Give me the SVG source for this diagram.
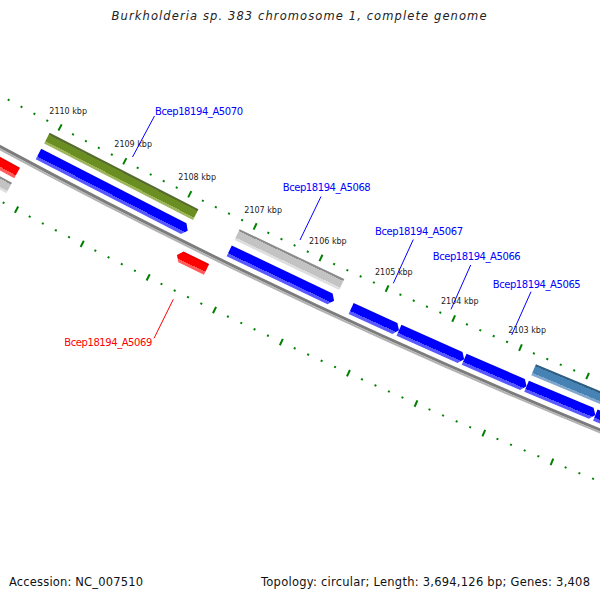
<svg xmlns="http://www.w3.org/2000/svg" xmlns:xlink="http://www.w3.org/1999/xlink" width="600" height="600" viewBox="0 0 600 600">
<style>
.title{font-family:"DejaVu Sans","Liberation Sans",sans-serif;font-style:italic;font-size:11.5px;fill:#222}
.foot{font-family:"DejaVu Sans","Liberation Sans",sans-serif;font-size:11.5px;fill:#111}
.kbp{font-family:"DejaVu Sans","Liberation Sans",sans-serif;font-size:8px;fill:#222}
.lab{font-family:"DejaVu Sans","Liberation Sans",sans-serif;font-size:10px}
.fw{fill:#ff0000}.rv{fill:#0000ff}
.lline{stroke-width:1;fill:none}
</style>
<defs>
<linearGradient id="gBlue" x1="0" y1="0" x2="1" y2="0"><stop offset="0" stop-color="#0000f0"/><stop offset=".15" stop-color="#0000f0"/><stop offset=".15" stop-color="#0000ff"/><stop offset=".72" stop-color="#0000ff"/><stop offset=".72" stop-color="#5858ff"/><stop offset="1" stop-color="#5858ff"/></linearGradient>
<linearGradient id="gOlive" x1="0" y1="0" x2="1" y2="0"><stop offset="0" stop-color="#556b2f"/><stop offset=".17" stop-color="#556b2f"/><stop offset=".17" stop-color="#6b8e23"/><stop offset=".78" stop-color="#6b8e23"/><stop offset=".78" stop-color="#9cb45a"/><stop offset="1" stop-color="#9cb45a"/></linearGradient>
<linearGradient id="gGray" x1="0" y1="0" x2="1" y2="0"><stop offset="0" stop-color="#8c8c8c"/><stop offset=".17" stop-color="#8c8c8c"/><stop offset=".17" stop-color="#c3c3c3"/><stop offset=".78" stop-color="#c3c3c3"/><stop offset=".78" stop-color="#dedede"/><stop offset="1" stop-color="#dedede"/></linearGradient>
<linearGradient id="gSteel" x1="0" y1="0" x2="1" y2="0"><stop offset="0" stop-color="#2e5d82"/><stop offset=".17" stop-color="#2e5d82"/><stop offset=".17" stop-color="#4682b4"/><stop offset=".78" stop-color="#4682b4"/><stop offset=".78" stop-color="#80a8cc"/><stop offset="1" stop-color="#80a8cc"/></linearGradient>
<linearGradient id="gRed" x1="0" y1="0" x2="1" y2="0"><stop offset="0" stop-color="#e80000"/><stop offset=".15" stop-color="#e80000"/><stop offset=".15" stop-color="#ff0000"/><stop offset=".72" stop-color="#ff0000"/><stop offset=".72" stop-color="#ff5c5c"/><stop offset="1" stop-color="#ff5c5c"/></linearGradient>
<g id="dot"><rect x="6250" y="-1" width="2" height="2"/><rect x="6343" y="-1" width="2" height="2"/></g>
<g id="tick"><rect x="6247.5" y="-1" width="7" height="2"/><rect x="6340.5" y="-1" width="7" height="2"/></g>
</defs>
<rect width="600" height="600" fill="#ffffff"/>

<g id="backbone" fill="none">
<circle cx="2985" cy="-5397" r="6296" stroke="#7c7c7c" stroke-width="3"/>
<circle cx="2985" cy="-5397" r="6298.5" stroke="#b2b2b2" stroke-width="2"/>
</g>

<g id="ruler" fill="#008000" transform="translate(2985 -5397)">
<use href="#tick" transform="rotate(112.552)"/><use href="#tick" transform="rotate(113.22)"/><use href="#tick" transform="rotate(113.888)"/><use href="#tick" transform="rotate(114.557)"/><use href="#tick" transform="rotate(115.225)"/><use href="#tick" transform="rotate(115.894)"/><use href="#tick" transform="rotate(116.562)"/><use href="#tick" transform="rotate(117.23)"/><use href="#tick" transform="rotate(117.899)"/>
<use href="#dot" transform="rotate(112.017)"/><use href="#dot" transform="rotate(112.151)"/><use href="#dot" transform="rotate(112.284)"/><use href="#dot" transform="rotate(112.418)"/>
<use href="#dot" transform="rotate(112.685)"/><use href="#dot" transform="rotate(112.819)"/><use href="#dot" transform="rotate(112.953)"/><use href="#dot" transform="rotate(113.086)"/>
<use href="#dot" transform="rotate(113.354)"/><use href="#dot" transform="rotate(113.487)"/><use href="#dot" transform="rotate(113.621)"/><use href="#dot" transform="rotate(113.755)"/>
<use href="#dot" transform="rotate(114.022)"/><use href="#dot" transform="rotate(114.156)"/><use href="#dot" transform="rotate(114.289)"/><use href="#dot" transform="rotate(114.423)"/>
<use href="#dot" transform="rotate(114.69)"/><use href="#dot" transform="rotate(114.824)"/><use href="#dot" transform="rotate(114.958)"/><use href="#dot" transform="rotate(115.092)"/>
<use href="#dot" transform="rotate(115.359)"/><use href="#dot" transform="rotate(115.493)"/><use href="#dot" transform="rotate(115.626)"/><use href="#dot" transform="rotate(115.76)"/>
<use href="#dot" transform="rotate(116.027)"/><use href="#dot" transform="rotate(116.161)"/><use href="#dot" transform="rotate(116.295)"/><use href="#dot" transform="rotate(116.428)"/>
<use href="#dot" transform="rotate(116.696)"/><use href="#dot" transform="rotate(116.829)"/><use href="#dot" transform="rotate(116.963)"/><use href="#dot" transform="rotate(117.097)"/>
<use href="#dot" transform="rotate(117.364)"/><use href="#dot" transform="rotate(117.498)"/><use href="#dot" transform="rotate(117.631)"/><use href="#dot" transform="rotate(117.765)"/>
<use href="#dot" transform="rotate(118.032)"/><use href="#dot" transform="rotate(118.166)"/><use href="#dot" transform="rotate(118.3)"/><use href="#dot" transform="rotate(118.434)"/>
<use href="#dot" transform="rotate(118.567)"/><use href="#dot" transform="rotate(118.701)"/>
</g>

<g id="ruler-labels" class="kbp">
<text x="49.3" y="114.3">2110 kbp</text>
<text x="114.3" y="147">2109 kbp</text>
<text x="178.3" y="180.3">2108 kbp</text>
<text x="244.3" y="213.3">2107 kbp</text>
<text x="309" y="244.3">2106 kbp</text>
<text x="375" y="275">2105 kbp</text>
<text x="441" y="303.7">2104 kbp</text>
<text x="508.3" y="332.7">2103 kbp</text>
</g>

<g id="gene-left-fwd" transform="translate(2985 -5397) rotate(118.625)">
<path d="M6305 -63.3 L6317 -63.3 L6317 58.8 L6311 63.3 L6305 58.8 Z" fill="url(#gRed)"/>
<rect x="6322" y="-63.5" width="12" height="127" fill="url(#gGray)"/>
</g>

<g id="gene-A5070">
<g transform="translate(2985 -5397) rotate(117.195)">
<rect x="6260" y="-83.65" width="12" height="167.3" fill="url(#gOlive)"/>
<path d="M6278 83.9 L6290 83.9 L6290 -79.4 L6284 -83.9 L6278 -79.4 Z" fill="url(#gBlue)"/>
</g>
<text class="lab rv" x="155" y="114.8" textLength="88" lengthAdjust="spacing">Bcep18194_A5070</text>
</g>

<g id="gene-A5069">
<g transform="translate(2985 -5397) rotate(116.27)">
<path d="M6305 -16.5 L6317 -16.5 L6317 12 L6311 16.5 L6305 12 Z" fill="url(#gRed)"/>
</g>
<text class="lab fw" x="64.3" y="345.8" textLength="88" lengthAdjust="spacing">Bcep18194_A5069</text>
</g>

<g id="gene-A5068">
<g transform="translate(2985 -5397) rotate(115.48)">
<rect x="6260" y="-58" width="12" height="116" fill="url(#gGray)"/>
<path d="M6278 58.1 L6290 58.1 L6290 -53.6 L6284 -58.1 L6278 -53.6 Z" fill="url(#gBlue)"/>
</g>
<text class="lab rv" x="282.7" y="190.8" textLength="88" lengthAdjust="spacing">Bcep18194_A5068</text>
</g>

<g id="gene-A5067">
<g transform="translate(2985 -5397) rotate(114.54)">
<path d="M6278 26.3 L6290 26.3 L6290 -21.8 L6284 -26.3 L6278 -21.8 Z" fill="url(#gBlue)"/>
</g>
<text class="lab rv" x="375" y="234.8" textLength="88" lengthAdjust="spacing">Bcep18194_A5067</text>
</g>

<g id="gene-A5066">
<g transform="translate(2985 -5397) rotate(113.975)">
<path d="M6278 35.65 L6290 35.65 L6290 -31.15 L6284 -35.65 L6278 -31.15 Z" fill="url(#gBlue)"/>
</g>
<text class="lab rv" x="432.7" y="259.8" textLength="88" lengthAdjust="spacing">Bcep18194_A5066</text>
</g>

<g id="gene-A5065">
<g transform="translate(2985 -5397) rotate(113.34)">
<path d="M6278 34 L6290 34 L6290 -29.5 L6284 -34 L6278 -29.5 Z" fill="url(#gBlue)"/>
</g>
<text class="lab rv" x="492.7" y="287.5" textLength="88" lengthAdjust="spacing">Bcep18194_A5065</text>
</g>

<g id="gene-right-1" transform="translate(2985 -5397) rotate(112.69)">
<rect x="6260" y="-37.2" width="12" height="74.4" fill="url(#gSteel)"/>
<path d="M6278 37.3 L6290 37.3 L6290 -32.8 L6284 -37.3 L6278 -32.8 Z" fill="url(#gBlue)"/>
</g>

<g id="gene-right-2" transform="translate(2985 -5397) rotate(111.825)">
<path d="M6278 57.6 L6290 57.6 L6290 -53.1 L6284 -57.6 L6278 -53.1 Z" fill="url(#gBlue)"/>
</g>

<g id="connectors" class="lline">
<line x1="154.5" y1="116" x2="132.5" y2="157" stroke="#0000ff"/>
<line x1="321" y1="196.5" x2="300" y2="240" stroke="#0000ff"/>
<line x1="413.3" y1="239.5" x2="393.3" y2="283.3" stroke="#0000ff"/>
<line x1="470.7" y1="265" x2="451" y2="309.3" stroke="#0000ff"/>
<line x1="531" y1="291.7" x2="511.7" y2="335" stroke="#0000ff"/>
<line x1="173.3" y1="299.3" x2="154" y2="338.3" stroke="#ff0000"/>
</g>

<g id="title">
<text class="title" x="111.5" y="20" textLength="375" lengthAdjust="spacing">Burkholderia sp. 383 chromosome 1, complete genome</text>
</g>
<g id="footer">
<text class="foot" x="9" y="586" textLength="134" lengthAdjust="spacing">Accession: NC_007510</text>
<text class="foot" x="261" y="586" textLength="329" lengthAdjust="spacing">Topology: circular; Length: 3,694,126 bp; Genes: 3,408</text>
</g>
</svg>
